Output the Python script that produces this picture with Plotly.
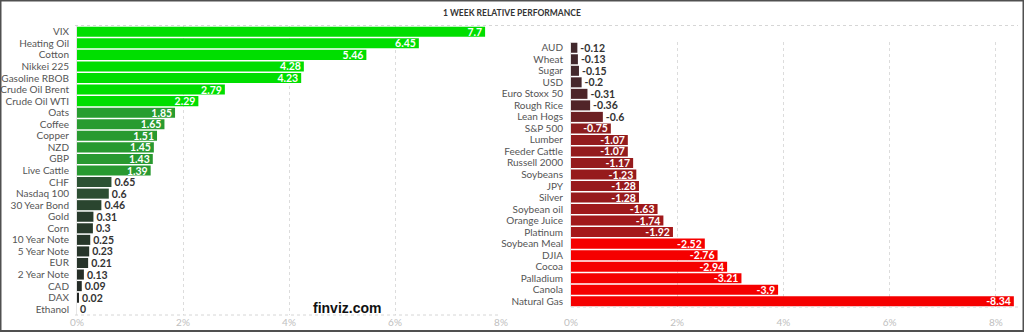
import numpy as np
import plotly.graph_objects as go

W, H = 1024, 333

# ---------------- data ----------------
left_labels = ["VIX", "Heating Oil", "Cotton", "Nikkei 225", "Gasoline RBOB", "Crude Oil Brent",
               "Crude Oil WTI", "Oats", "Coffee", "Copper", "NZD", "GBP", "Live Cattle", "CHF",
               "Nasdaq 100", "30 Year Bond", "Gold", "Corn", "10 Year Note", "5 Year Note", "EUR",
               "2 Year Note", "CAD", "DAX", "Ethanol"]
left_values = [7.7, 6.45, 5.46, 4.28, 4.23, 2.79, 2.29, 1.85, 1.65, 1.51, 1.45, 1.43, 1.39, 0.65,
               0.6, 0.46, 0.31, 0.3, 0.25, 0.23, 0.21, 0.13, 0.09, 0.02, 0]

right_labels = ["AUD", "Wheat", "Sugar", "USD", "Euro Stoxx 50", "Rough Rice", "Lean Hogs", "S&P 500",
                "Lumber", "Feeder Cattle", "Russell 2000", "Soybeans", "JPY", "Silver", "Soybean oil",
                "Orange Juice", "Platinum", "Soybean Meal", "DJIA", "Cocoa", "Palladium", "Canola",
                "Natural Gas"]
right_values = [-0.12, -0.13, -0.15, -0.2, -0.31, -0.36, -0.6, -0.75, -1.07, -1.07, -1.17, -1.23,
                -1.28, -1.28, -1.63, -1.74, -1.92, -2.52, -2.76, -2.94, -3.21, -3.9, -8.34]

x_ticks = [0, 2, 4, 6, 8]
x_tick_text = ["0%", "2%", "4%", "6%", "8%"]
title_text = "1 WEEK RELATIVE PERFORMANCE"
brand_text = "finviz.com"

# ---------------- styling helpers ----------------
def interp_color(v, anchors, cols):
    cols = np.array(cols, dtype=float)
    rgb = [int(round(np.interp(v, anchors, cols[:, i]))) for i in range(3)]
    return "rgb({},{},{})".format(*rgb)

pos_anchors = [0, 0.7, 1.3, 2.0, 2.2, 10]
pos_cols = [(36, 38, 37), (45, 85, 52), (40, 152, 48), (40, 158, 48), (0, 222, 0), (0, 222, 0)]
neg_anchors = [0, 0.36, 0.6, 0.75, 1.92, 2.4, 10]
neg_cols = [(58, 42, 46), (80, 36, 40), (108, 32, 36), (140, 28, 30), (165, 24, 26), (245, 0, 0), (245, 0, 0)]

left_colors = [interp_color(v, pos_anchors, pos_cols) for v in left_values]
right_colors = [interp_color(abs(v), neg_anchors, neg_cols) for v in right_values]

left_pos = ["inside" if v >= 1.0 else "outside" for v in left_values]
right_pos = ["inside" if abs(v) >= 0.7 else "outside" for v in right_values]

def px_x(p):
    return p / W

def px_y(p):
    return 1 - p / H

FONT = "Lato"
fig = go.Figure()

fig.add_trace(go.Bar(
    y=left_labels, x=left_values, orientation="h",
    marker=dict(color=left_colors, line=dict(width=0)),
    text=[f"{v:g}" for v in left_values], textposition=left_pos,
    insidetextanchor="end", constraintext="none", cliponaxis=False,
    insidetextfont=dict(family=FONT, size=10.5, color="white", weight=700),
    outsidetextfont=dict(family=FONT, size=10.5, color="#333333", weight=700),
    hoverinfo="skip", xaxis="x", yaxis="y",
))

fig.add_trace(go.Bar(
    y=right_labels, x=[-v for v in right_values], orientation="h",
    marker=dict(color=right_colors, line=dict(width=0)),
    text=[f"{v:g}" for v in right_values], textposition=right_pos,
    insidetextanchor="end", constraintext="none", cliponaxis=False,
    insidetextfont=dict(family=FONT, size=10.5, color="white", weight=700),
    outsidetextfont=dict(family=FONT, size=10.5, color="#333333", weight=700),
    hoverinfo="skip", xaxis="x2", yaxis="y2",
))

xcommon = dict(
    tickmode="array", tickvals=x_ticks, ticktext=x_tick_text,
    showgrid=True, gridcolor="#dcdcdc", griddash="dot",
    gridwidth=1, zeroline=False, showline=False, ticks="", automargin=False,
    tickfont=dict(family=FONT, size=10, color="#c0c0c0"), fixedrange=True,
)
ycommon = dict(
    type="category", showgrid=False, zeroline=False, ticks="", showline=True,
    linecolor="#e6e6e6", linewidth=1,
    tickfont=dict(family=FONT, size=10, color="#555555"), ticklabelstandoff=5,
    fixedrange=True, automargin=False,
)

fig.update_layout(
    width=W, height=H, autosize=False,
    margin=dict(l=0, r=0, t=0, b=0, pad=0, autoexpand=False),
    paper_bgcolor="white", plot_bgcolor="white",
    showlegend=False, bargap=0.13,
    xaxis=dict(domain=[px_x(77), px_x(501)], range=[0, 8], anchor="y", **xcommon),
    yaxis=dict(domain=[px_y(315), px_y(26)], range=[24.5, -0.5], anchor="x",
               tickmode="array", tickvals=left_labels, ticktext=left_labels, **ycommon),
    xaxis2=dict(domain=[px_x(571), px_x(1016)], range=[0, (1016 - 571) / 53.1], anchor="y2",
                ticklabelstandoff=8, **xcommon),
    yaxis2=dict(domain=[px_y(307), px_y(42)], range=[22.5, -0.5], anchor="x2",
                tickmode="array", tickvals=right_labels, ticktext=right_labels, **ycommon),
    font=dict(family=FONT),
)

# dotted frame lines
dot = dict(color="#d6d6d6", width=1, dash="dot")
fig.add_shape(type="line", xref="paper", yref="paper", x0=px_x(75), x1=px_x(1018),
              y0=px_y(25.5), y1=px_y(25.5), line=dot)
fig.add_shape(type="line", xref="paper", yref="paper", x0=px_x(75), x1=px_x(501),
              y0=px_y(315), y1=px_y(315), line=dot)
fig.add_shape(type="line", xref="paper", yref="paper", x0=px_x(571), x1=px_x(1018),
              y0=px_y(307), y1=px_y(307), line=dot)

# outer dark frame
fig.add_shape(type="rect", xref="paper", yref="paper", x0=px_x(0.5), x1=px_x(1023.5),
              y0=px_y(331), y1=px_y(0.5), line=dict(color="#505050", width=2))

fig.add_annotation(text=title_text, xref="paper", yref="paper", x=0.5, y=px_y(13),
                   showarrow=False, xanchor="center", yanchor="middle",
                   font=dict(family=FONT, size=8.5, color="#333333", weight=700))
fig.add_annotation(text=brand_text, xref="paper", yref="paper", x=px_x(347), y=px_y(308),
                   showarrow=False, xanchor="center", yanchor="middle",
                   font=dict(family="Liberation Sans", size=14, color="#111111", weight=700))

fig.write_html("out.html", config={"displayModeBar": False})
